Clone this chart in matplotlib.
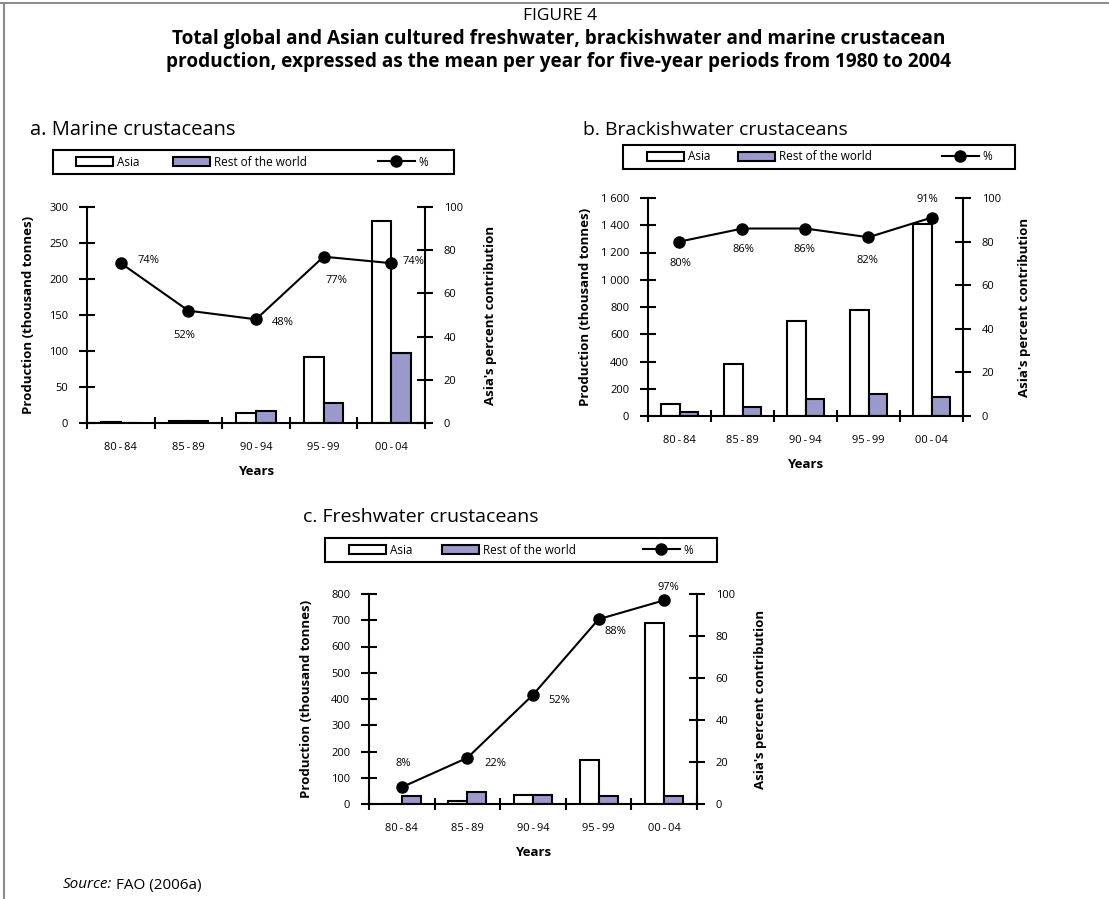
"""
FIGURE 4 - Asian vs rest-of-world cultured crustacean production,
mean per year for five-year periods 1980-2004 (marine, brackish, freshwater).
Output: out.png
"""

import matplotlib

matplotlib.use("Agg")
import matplotlib.pyplot as plt
import numpy as np
from matplotlib.lines import Line2D
from matplotlib.patches import Patch, Rectangle

plt.rcParams["font.family"] = ["Open Sans", "DejaVu Sans"]

W, H = 1109, 899

PERIODS = ["80\u2009-\u200984", "85\u2009-\u200989", "90\u2009-\u200994",
           "95\u2009-\u200999", "00\u2009-\u200904"]

# thousand tonnes / percent
MARINE_ASIA = [1, 3, 14, 92, 280]
MARINE_ROW = [0.5, 3, 16, 28, 97]
MARINE_PCT = [74, 52, 48, 77, 74]

BRACKISH_ASIA = [88, 380, 700, 775, 1410]
BRACKISH_ROW = [27, 68, 125, 165, 142]
BRACKISH_PCT = [80, 86, 86, 82, 91]

FRESH_ASIA = [0, 12, 36, 169, 690]
FRESH_ROW = [32, 46, 36, 30, 32]
FRESH_PCT = [8, 22, 52, 88, 97]

MARINE_YTICKS = [0, 50, 100, 150, 200, 250, 300]
MARINE_YLABELS = ["0", "50", "100", "150", "200", "250", "300"]
BRACKISH_YTICKS = [0, 200, 400, 600, 800, 1000, 1200, 1400, 1600]
BRACKISH_YLABELS = ["0", "200", "400", "600", "800", "1 000", "1 200", "1 400", "1 600"]
FRESH_YTICKS = [0, 100, 200, 300, 400, 500, 600, 700, 800]
FRESH_YLABELS = ["0", "100", "200", "300", "400", "500", "600", "700", "800"]
PCT_TICKS = [0, 20, 40, 60, 80, 100]
PCT_LABELS = ["0", "20", "40", "60", "80", "100"]

LEGEND_LABELS = ["Asia", "Rest of the world", "%"]

ROW_COLOR = "#9999cc"
BAR_W = 0.29
LW = 1.5


def fig_rect(x0, y0, x1, y1):
    # pixel box (top-left origin) -> figure fraction rect
    return [x0 / W, 1 - y1 / H, (x1 - x0) / W, (y1 - y0) / H]


def legend_box(fig, box, item_x):
    x0, y0, x1, y1 = box
    fig.add_artist(Rectangle((x0 / W, 1 - y1 / H), (x1 - x0) / W, (y1 - y0) / H,
                             transform=fig.transFigure, fill=False, lw=LW, ec="black"))
    yc = 1 - (y0 + y1) / 2 / H
    handles = [
        Patch(facecolor="white", edgecolor="black", lw=LW),
        Patch(facecolor=ROW_COLOR, edgecolor="black", lw=LW),
        Line2D([], [], color="black", lw=LW, marker="o", ms=8),
    ]
    for h, lab, dx in zip(handles, LEGEND_LABELS, item_x):
        fig.legend([h], [lab], loc="center left", bbox_to_anchor=((x0 + dx) / W, yc),
                   frameon=False, borderpad=0, borderaxespad=0, handlelength=3.1,
                   handleheight=0.7, handletextpad=0.35, fontsize=8.5)


def draw_panel(fig, box, asia, row, pct, yticks, ylabels, offsets, ylab_x):
    ax = fig.add_axes(fig_rect(*box))
    x = np.arange(len(PERIODS))
    ax.bar(x - BAR_W / 2, asia, BAR_W, color="white", edgecolor="black", lw=LW)
    ax.bar(x + BAR_W / 2, row, BAR_W, color=ROW_COLOR, edgecolor="black", lw=LW)

    ax.set_xlim(-0.5, len(PERIODS) - 0.5)
    ax.set_ylim(0, yticks[-1])
    ax.set_yticks(yticks)
    ax.set_yticklabels(ylabels)
    ax.set_xticks(x)
    ax.set_xticklabels(PERIODS)
    ax.set_xticks(np.arange(len(PERIODS) + 1) - 0.5, minor=True)
    ax.tick_params(axis="x", which="major", length=0, pad=14, labelsize=8)
    ax.tick_params(axis="x", which="minor", direction="inout", length=9, width=LW)
    ax.tick_params(axis="y", direction="inout", length=11, width=LW, pad=8, labelsize=8)
    for s in ("top", "right"):
        ax.spines[s].set_visible(False)
    for s in ("left", "bottom"):
        ax.spines[s].set_linewidth(LW)
    ax.set_xlabel("Years", fontsize=9.5, fontweight="bold", labelpad=8)
    ax.set_ylabel("Production (thousand tonnes)", fontsize=9.5, fontweight="bold")
    ax.yaxis.set_label_coords(ylab_x, 0.5)

    ax2 = ax.twinx()
    ax2.plot(x, pct, color="black", lw=LW, marker="o", ms=8)
    ax2.set_ylim(0, 100)
    ax2.set_yticks(PCT_TICKS)
    ax2.set_yticklabels(PCT_LABELS)
    ax2.tick_params(axis="y", direction="inout", length=11, width=LW, pad=8, labelsize=8)
    for s in ("top", "left", "bottom"):
        ax2.spines[s].set_visible(False)
    ax2.spines["right"].set_linewidth(LW)
    ax2.set_ylabel("Asia's percent contribution", fontsize=9.5, fontweight="bold")
    ax2.yaxis.set_label_coords(1.175, 0.5)

    for xi, v, off in zip(x, pct, offsets):
        ax2.annotate(f"{v}%", (xi, v), xytext=off, textcoords="offset points",
                     ha="center", va="center", fontsize=8)
    return ax, ax2


fig = plt.figure(figsize=(W / 100, H / 100), dpi=100)

# page frame (top and left rules)
fig.add_artist(Line2D([0, 1], [1 - 2.5 / H] * 2, transform=fig.transFigure,
                      color="#8c8c8c", lw=1.5))
fig.add_artist(Line2D([4 / W] * 2, [0, 1 - 2.5 / H], transform=fig.transFigure,
                      color="#8c8c8c", lw=1.5))

fig.text(560 / W, 1 - 16 / H, "FIGURE 4", ha="center", va="center", fontsize=12.5)
fig.text(559 / W, 1 - 39 / H,
         "Total global and Asian cultured freshwater, brackishwater and marine crustacean",
         ha="center", va="center", fontsize=13.7, fontweight="bold")
fig.text(559 / W, 1 - 62 / H,
         "production, expressed as the mean per year for five-year periods from 1980 to 2004",
         ha="center", va="center", fontsize=13.7, fontweight="bold")

fig.text(30 / W, 1 - 130 / H, "a. Marine crustaceans", va="center", fontsize=14.5)
fig.text(583 / W, 1 - 130 / H, "b. Brackishwater crustaceans", va="center", fontsize=14)
fig.text(303 / W, 1 - 517 / H, "c. Freshwater crustaceans", va="center", fontsize=14)

legend_box(fig, (53, 150, 454, 174), (23, 120, 325))
legend_box(fig, (623, 145, 1015, 169), (24, 115, 319))
legend_box(fig, (325, 538, 717, 562), (24, 117, 318))

draw_panel(fig, (87, 207, 425, 423), MARINE_ASIA, MARINE_ROW, MARINE_PCT,
           MARINE_YTICKS, MARINE_YLABELS,
           [(20, 2), (-3, -18), (19, -2), (9, -17), (16, 1)], -0.154)
draw_panel(fig, (648, 198, 963, 416), BRACKISH_ASIA, BRACKISH_ROW, BRACKISH_PCT,
           BRACKISH_YTICKS, BRACKISH_YLABELS,
           [(1, -16), (1, -15), (-1, -15), (-1, -17), (-3, 13)], -0.178)
draw_panel(fig, (369, 594, 697, 804), FRESH_ASIA, FRESH_ROW, FRESH_PCT,
           FRESH_YTICKS, FRESH_YLABELS,
           [(1, 17), (20, -4), (19, -4), (12, -9), (3, 9)], -0.171)

src = fig.text(63 / W, 1 - 885 / H, "Source:", style="italic", fontsize=11, va="center")
fig.axes[0].annotate(" FAO (2006a)", xy=(1, 0.5), xycoords=src, va="center",
                     fontsize=11, annotation_clip=False)

fig.savefig("out.png", dpi=100)
